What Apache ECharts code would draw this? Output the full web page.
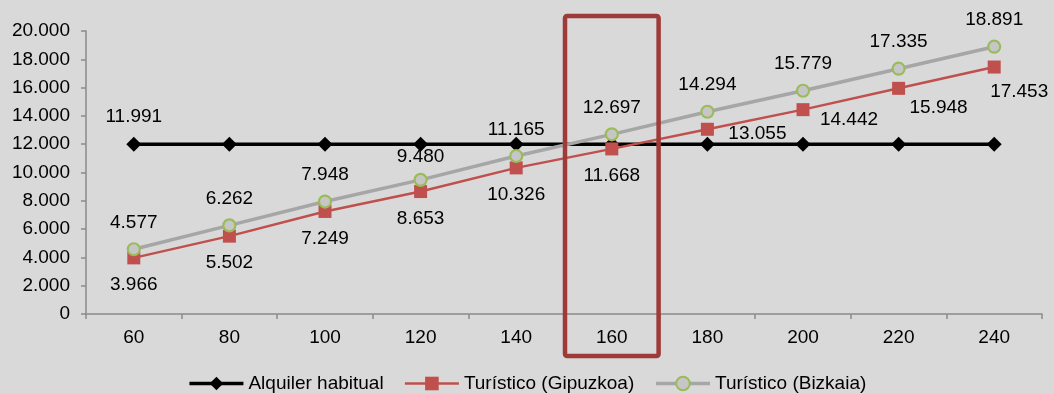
<!DOCTYPE html>
<html>
<head>
<meta charset="utf-8">
<script src="https://cdn.jsdelivr.net/npm/echarts@6/dist/echarts.min.js"></script>
<style>
  html, body { margin: 0; padding: 0; background: #d9d9d9; }
  #chart { width: 1054px; height: 394px; }
</style>
</head>
<body>
<div id="chart"></div>
<script>
// Metros cuadrados (categorías del eje X)
const categories = ['60', '80', '100', '120', '140', '160', '180', '200', '220', '240'];

// Ingresos anuales por escenario
const alquilerHabitual = [11991, 11991, 11991, 11991, 11991, 11991, 11991, 11991, 11991, 11991];
const turisticoGipuzkoa = [3966, 5502, 7249, 8653, 10326, 11668, 13055, 14442, 15948, 17453];
const turisticoBizkaia = [4577, 6262, 7948, 9480, 11165, 12697, 14294, 15779, 17335, 18891];

// Categoría resaltada con el recuadro
const highlighted = '160';

const FONT = '"Liberation Sans", Arial, sans-serif';
const FS = 19;
const fmt = v => Math.round(v).toString().replace(/\B(?=(\d{3})+(?!\d))/g, '.');

// Etiquetas de Gipuzkoa que se desplazan a la derecha de su punto
const gipuzkoaShifted = { 6: [50, 4], 7: [46, 10], 8: [40, 19], 9: [25, 25] };

const labelBase = { show: true, color: '#000', fontFamily: FONT, fontSize: FS, formatter: p => fmt(p.value) };

const chart = echarts.init(document.getElementById('chart'), null, { renderer: 'canvas' });

const option = {
  backgroundColor: '#d9d9d9',
  animation: false,
  grid: { left: 86, right: 12, top: 31, bottom: 80, containLabel: false },
  legend: {
    bottom: -4,
    left: 'center',
    itemWidth: 54,
    itemHeight: 17,
    itemGap: 20,
    lineStyle: { width: 'inherit' },
    textStyle: { color: '#000', fontFamily: FONT, fontSize: FS },
    data: ['Alquiler habitual', 'Turístico (Gipuzkoa)', 'Turístico (Bizkaia)']
  },
  xAxis: {
    type: 'category',
    data: categories,
    boundaryGap: true,
    axisLine: { lineStyle: { color: '#8a8a8a', width: 1.5 } },
    axisTick: { show: true, length: 5, alignWithLabel: false, lineStyle: { color: '#8a8a8a', width: 1.5 } },
    axisLabel: { color: '#000', fontFamily: FONT, fontSize: FS, margin: 14 },
    splitLine: { show: false }
  },
  yAxis: {
    type: 'value',
    min: 0,
    max: 20000,
    interval: 2000,
    axisLine: { show: true, lineStyle: { color: '#8a8a8a', width: 1.5 } },
    axisTick: { show: true, length: 5, lineStyle: { color: '#8a8a8a', width: 1.5 } },
    axisLabel: { color: '#000', fontFamily: FONT, fontSize: FS, margin: 16, formatter: fmt },
    splitLine: { show: false }
  },
  series: [
    {
      name: 'Alquiler habitual',
      type: 'line',
      data: alquilerHabitual.map((v, i) => ({
        value: v,
        label: i === 0 ? { ...labelBase, position: 'top', distance: 11 } : { show: false }
      })),
      z: 3,
      lineStyle: { color: '#000', width: 3.5 },
      itemStyle: { color: '#000' },
      symbol: 'diamond',
      symbolSize: 15
    },
    {
      name: 'Turístico (Gipuzkoa)',
      type: 'line',
      data: turisticoGipuzkoa.map((v, i) => ({
        value: v,
        label: gipuzkoaShifted[i]
          ? { ...labelBase, position: 'inside', offset: gipuzkoaShifted[i] }
          : { ...labelBase, position: 'bottom', distance: 11 }
      })),
      z: 4,
      lineStyle: { color: '#c0504d', width: 2.5 },
      itemStyle: { color: '#c0504d' },
      symbol: 'rect',
      symbolSize: 13
    },
    {
      name: 'Turístico (Bizkaia)',
      type: 'line',
      data: turisticoBizkaia.map((v, i) => ({
        value: v,
        label: { ...labelBase, position: 'top', distance: i === 3 ? 6 : 10 }
      })),
      z: 5,
      lineStyle: { color: '#a6a6a6', width: 3.5 },
      itemStyle: { color: '#c6c6c6', borderColor: '#9bbb59', borderWidth: 2.2 },
      symbol: 'circle',
      symbolSize: 12
    }
  ]
};

chart.setOption(option);

// Recuadro que resalta la categoría seleccionada, calculado desde el eje
function drawHighlight() {
  const cx = chart.convertToPixel({ xAxisIndex: 0 }, highlighted);
  const c0 = chart.convertToPixel({ xAxisIndex: 0 }, categories[0]);
  const c1 = chart.convertToPixel({ xAxisIndex: 0 }, categories[1]);
  const band = c1 - c0;
  const yTop = chart.convertToPixel({ yAxisIndex: 0 }, 20000);
  const yBottom = chart.convertToPixel({ yAxisIndex: 0 }, 0);
  chart.setOption({
    graphic: [{
      type: 'rect',
      z: 100,
      shape: { x: cx - band / 2 + 1, y: yTop - 15, width: band - 2, height: (yBottom - yTop) + 15 + 42, r: 2 },
      style: { fill: 'none', stroke: '#9e3a38', lineWidth: 4.5 }
    }]
  });
}
drawHighlight();
</script>
</body>
</html>
